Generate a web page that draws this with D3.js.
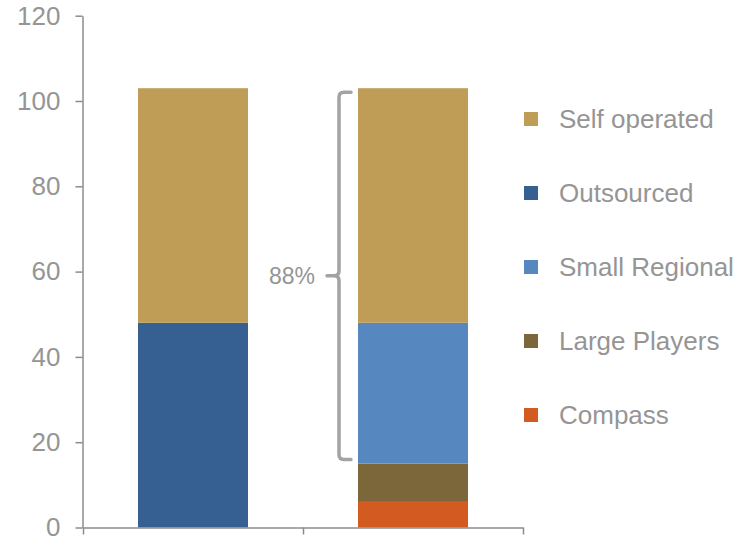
<!DOCTYPE html>
<html>
<head>
<meta charset="utf-8">
<script src="https://cdn.jsdelivr.net/npm/d3@7"></script>
<style>
  html, body { margin: 0; padding: 0; background: #fff; }
  svg { display: block; font-family: "Liberation Sans", Arial, sans-serif; }
</style>
</head>
<body>
<svg id="chart" width="751" height="538"></svg>
<script>
// Categories (one stacked column each) and series values
const categories = ["Total market", "Outsourced split"];
const selfOperated = [55, 55];
const outsourced = [48, 0];
const smallRegional = [0, 33];
const largePlayers = [0, 9];
const compass = [0, 6];

// Series names, bottom-to-top stacking order
const seriesKeys = ["Compass", "Large Players", "Small Regional", "Outsourced", "Self operated"];
const seriesValues = [compass, largePlayers, smallRegional, outsourced, selfOperated];
const seriesColors = ["#D35B21", "#7B673A", "#5787BF", "#366092", "#BF9D56"];
// Legend order (top to bottom)
const legendKeys = ["Self operated", "Outsourced", "Small Regional", "Large Players", "Compass"];

const yTicks = [0, 20, 40, 60, 80, 100, 120];
const bracketRange = [15, 103];
const bracketLabel = "88%";

const rows = categories.map((c, i) => {
  const r = { category: c };
  seriesKeys.forEach((k, j) => { r[k] = seriesValues[j][i]; });
  return r;
});

const svg = d3.select("#chart");
const axisColor = "#8c8c8c";
const textColor = "#959595";

const y = d3.scaleLinear().domain([0, 120]).range([527.5, 15.7]);
const x = d3.scaleBand().domain(categories).range([83, 523]).paddingInner(0.5).paddingOuter(0.25);
const color = d3.scaleOrdinal().domain(seriesKeys).range(seriesColors);

const stacked = d3.stack().keys(seriesKeys)(rows);

// Stacked columns
svg.append("g").selectAll("g")
  .data(stacked)
  .join("g")
  .attr("fill", d => color(d.key))
  .selectAll("rect")
  .data(d => d.filter(s => s[1] - s[0] > 0))
  .join("rect")
  .attr("x", d => x(d.data.category))
  .attr("width", x.bandwidth())
  .attr("y", d => y(d[1]))
  .attr("height", d => y(d[0]) - y(d[1]));

// Y axis
const yAxis = svg.append("g")
  .attr("transform", "translate(82.5,0)")
  .call(d3.axisLeft(y).tickValues(yTicks).tickSize(7).tickSizeOuter(0).tickPadding(15));
yAxis.select(".domain").attr("stroke", axisColor).attr("stroke-width", 1.5);
yAxis.selectAll(".tick line").attr("stroke", axisColor).attr("stroke-width", 1.5);
yAxis.selectAll(".tick text")
  .attr("fill", textColor)
  .style("font-size", "26px")
  .style("font-family", "'Liberation Sans', Arial, sans-serif");

// X axis: category boundaries marked with ticks, no labels
const xb = d3.scaleLinear().domain([0, categories.length]).range(x.range());
const xAxis = svg.append("g")
  .attr("transform", `translate(0,${y(0)})`)
  .call(d3.axisBottom(xb).ticks(categories.length).tickValues(d3.range(categories.length + 1))
    .tickSize(7).tickSizeOuter(0).tickFormat(""));
xAxis.select(".domain").attr("stroke", axisColor).attr("stroke-width", 1.5);
xAxis.selectAll(".tick line").attr("stroke", axisColor).attr("stroke-width", 1.5);

// Curly bracket beside the second column
const bx = x(categories[1]) - 19;   // vertical stroke
const yTop = y(bracketRange[1]) + 4;
const yBot = y(bracketRange[0]) - 4;
const yMid = (y(bracketRange[0]) + y(bracketRange[1])) / 2;
const r = 5;
const bracketPath = [
  `M${bx + 12},${yTop}`,
  `L${bx + r},${yTop}`,
  `Q${bx},${yTop} ${bx},${yTop + r}`,
  `L${bx},${yMid - r}`,
  `Q${bx},${yMid} ${bx - r},${yMid}`,
  `L${bx - 12},${yMid}`,
  `M${bx - r},${yMid}`,
  `Q${bx},${yMid} ${bx},${yMid + r}`,
  `L${bx},${yBot - r}`,
  `Q${bx},${yBot} ${bx + r},${yBot}`,
  `L${bx + 12},${yBot}`
].join(" ");
svg.append("path")
  .attr("d", bracketPath)
  .attr("fill", "none")
  .attr("stroke", "#a3a3a3")
  .attr("stroke-width", 3.5)
  .attr("stroke-linecap", "round")
  .attr("stroke-linejoin", "round");

svg.append("text")
  .attr("x", bx - 24)
  .attr("y", yMid)
  .attr("dy", "0.37em")
  .attr("text-anchor", "end")
  .attr("fill", textColor)
  .style("font-size", "23px")
  .text(bracketLabel);

// Legend
const legend = svg.append("g").selectAll("g")
  .data(legendKeys)
  .join("g")
  .attr("transform", (d, i) => `translate(524,${119 + i * 74})`);
legend.append("rect")
  .attr("x", 0).attr("y", -7)
  .attr("width", 14).attr("height", 14)
  .attr("fill", d => color(d));
legend.append("text")
  .attr("x", 35)
  .attr("dy", "0.35em")
  .attr("fill", textColor)
  .style("font-size", "26px")
  .text(d => d);
</script>
</body>
</html>
